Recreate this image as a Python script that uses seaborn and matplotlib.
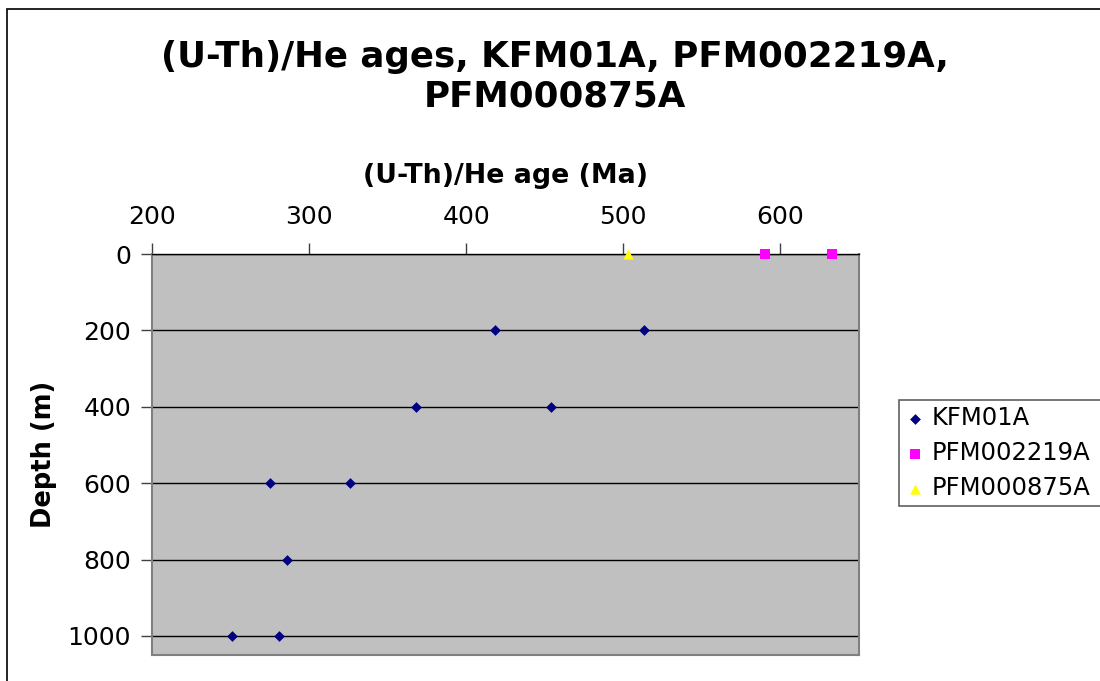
import matplotlib
matplotlib.use("Agg")
import matplotlib.pyplot as plt
import seaborn as sns
import pandas as pd
from matplotlib.patches import Rectangle

# (U-Th)/He ages (Ma) against depth (m) for each borehole
kfm01a_age = [418, 513, 368, 454, 275, 326, 286, 251, 281]
kfm01a_depth = [200, 200, 400, 400, 600, 600, 800, 1000, 1000]
pfm002219a_age = [590, 633]
pfm002219a_depth = [0, 0]
pfm000875a_age = [503]
pfm000875a_depth = [0]

series_names = ["KFM01A", "PFM002219A", "PFM000875A"]
x_ticks = [200, 300, 400, 500, 600]
y_ticks = [0, 200, 400, 600, 800, 1000]

df = pd.concat([
    pd.DataFrame({"age": kfm01a_age, "depth": kfm01a_depth, "series": series_names[0]}),
    pd.DataFrame({"age": pfm002219a_age, "depth": pfm002219a_depth, "series": series_names[1]}),
    pd.DataFrame({"age": pfm000875a_age, "depth": pfm000875a_depth, "series": series_names[2]}),
], ignore_index=True)

sns.set_theme(style="white")
plt.rcParams["font.family"] = ["DejaVu Sans"]
plt.rcParams["text.color"] = "black"
plt.rcParams["axes.labelcolor"] = "black"
plt.rcParams["xtick.color"] = "black"
plt.rcParams["ytick.color"] = "black"

fig = plt.figure(figsize=(11, 6.81), dpi=100)
ax = fig.add_axes([152 / 1100, 1 - 655 / 681, (859 - 152) / 1100, (655 - 254) / 681])

# outer chart frame
fig.patches.append(Rectangle((7 / 1100, -0.01), 1.1, 1 - 9 / 681 + 0.01,
                             transform=fig.transFigure, fill=False,
                             edgecolor="black", linewidth=1.2, zorder=0))

ax.set_facecolor("#C0C0C0")
palette = {"KFM01A": "#000080", "PFM002219A": "#FF00FF", "PFM000875A": "#FFFF00"}
markers = {"KFM01A": "D", "PFM002219A": "s", "PFM000875A": "^"}
sizes = {"KFM01A": 30, "PFM002219A": 55, "PFM000875A": 55}

for name in series_names:
    sub = df[df["series"] == name]
    sns.scatterplot(data=sub, x="age", y="depth", ax=ax, color=palette[name],
                    marker=markers[name], s=sizes[name], edgecolor=palette[name],
                    linewidth=0, label=name, zorder=3, clip_on=False)

ax.set_xlim(200, 650)
ax.set_ylim(1050, 0)
ax.set_xticks(x_ticks)
ax.set_yticks(y_ticks)
ax.xaxis.tick_top()
ax.xaxis.set_label_position("top")
ax.tick_params(axis="both", which="both", labelsize=18, length=8, width=1,
               color="#404040", labelcolor="black", direction="out")
ax.tick_params(axis="x", top=True, bottom=False, pad=10)
ax.tick_params(axis="y", left=True, pad=7)

ax.grid(False)
for y in y_ticks:
    ax.axhline(y, color="black", linewidth=1.0, zorder=1)

for side, sp in ax.spines.items():
    sp.set_color("#808080")
    sp.set_linewidth(1.5)
ax.spines["top"].set_color("black")
ax.spines["top"].set_linewidth(1.0)

ax.set_xlabel("(U-Th)/He age (Ma)", fontsize=19.3, fontweight="bold", labelpad=16)
ax.set_ylabel("Depth (m)", fontsize=18.5, fontweight="bold", labelpad=8)

fig.text(555 / 1100, 1 - 77 / 681, "(U-Th)/He ages, KFM01A, PFM002219A,\nPFM000875A",
         ha="center", va="center", fontsize=25.7, fontweight="bold", linespacing=1.2)

handles, labels = ax.get_legend_handles_labels()
if ax.get_legend():
    ax.get_legend().remove()
leg = fig.legend(handles, labels, loc="upper left", mode="expand",
                 bbox_to_anchor=(899 / 1100, 1 - 401 / 681, 0.2, 0.001),
                 fontsize=17.5, frameon=True, fancybox=False, framealpha=1,
                 edgecolor="#606060", handletextpad=0.3, handlelength=0.8,
                 borderpad=0.25, labelspacing=0.45, borderaxespad=0)
leg.get_frame().set_linewidth(1.2)

fig.savefig("out.png", dpi=100)
